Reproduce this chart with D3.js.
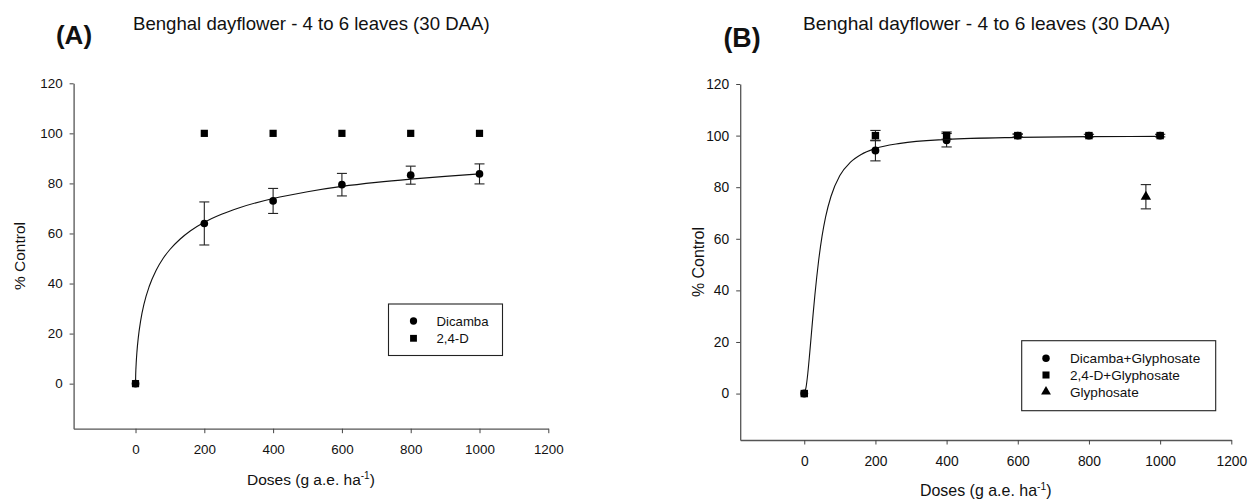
<!DOCTYPE html>
<html>
<head>
<meta charset="utf-8">
<script src="https://cdn.jsdelivr.net/npm/d3@7"></script>
<style>
  body { margin: 0; background: #fff; }
  svg { display: block; font-family: "Liberation Sans", Arial, sans-serif; }
</style>
</head>
<body>
<svg id="chart" width="1248" height="499"></svg>
<script>
// ---------- data ----------
const xTicks = [0, 200, 400, 600, 800, 1000, 1200];
const yTicks = [0, 20, 40, 60, 80, 100, 120];
const doses = [0, 200, 400, 600, 800, 1000];

// Panel A
const dicambaA = [0, 64, 73, 79.5, 83.3, 83.8];
const dicambaAErr = [0, 8.6, 5, 4.5, 3.6, 4];
const d24A = [0, 100, 100, 100, 100, 100];
// fitted curve
const fitADose = [0, 0.5, 1, 2, 4, 8, 15, 25, 40, 60, 80, 100, 130, 160, 200, 250, 300, 400, 500, 600, 700, 800, 900, 1000];
const fitAVal  = [0, 3.6, 5.5, 8.3, 12.5, 18.3, 25.2, 32, 38.9, 45.3, 50, 53.6, 57.8, 61.1, 64.5, 67.7, 70.2, 74, 76.7, 78.8, 80.4, 81.7, 82.8, 83.8];

// Panel B
const dicambaGlyB = [0, 94.2, 98.2, 100, 100, 100];
const dicambaGlyBErr = [0, 4, 2.6, 0.6, 0.5, 0.5];
const d24GlyB = [0, 100, 100, 100, 100, 100];
const d24GlyBErr = [0, 2, 1.4, 0.6, 0, 0];
const glyDose = [960];
const glyB = [76.3];
const glyBErr = [4.7];
const fitBDose = [0, 5, 10, 15, 20, 25, 30, 35, 40, 50, 60, 75, 100, 130, 160, 200, 270, 400, 600, 800, 1000];
const fitBVal  = [0, 2.4, 7.9, 15.2, 23.1, 31, 38.4, 45.1, 51.1, 61, 68.5, 76.4, 84.5, 89.7, 92.7, 95, 97, 98.5, 99.3, 99.6, 99.7];

const title = "Benghal dayflower - 4 to 6 leaves (30 DAA)";

// ---------- drawing ----------
const svg = d3.select("#chart");
const ink = "#111";

function drawPanel(cfg) {
  const g = svg.append("g");
  const k = cfg.k;
  const x = d3.scaleLinear().domain([-180, 1200]).range([cfg.x0, cfg.x1]);
  const y = d3.scaleLinear().domain([-18, 120]).range([cfg.yBot, cfg.yTop]);

  // axes
  const xa = g.append("g").attr("transform", `translate(0,${cfg.yBot})`)
    .call(d3.axisBottom(x).tickValues(xTicks).tickFormat(d3.format("d"))
      .tickSize(4.5).tickSizeOuter(0).tickPadding(9));
  const ya = g.append("g").attr("transform", `translate(${cfg.x0},0)`)
    .call(d3.axisLeft(y).tickValues(yTicks).tickFormat(d3.format("d"))
      .tickSize(4).tickSizeOuter(0).tickPadding(7));
  [xa, ya].forEach(a => {
    a.select(".domain").attr("stroke", "#555").attr("stroke-width", 1.3);
    a.selectAll(".tick line").attr("stroke", "#444").attr("stroke-width", 1);
    a.selectAll(".tick text").attr("fill", ink).style("font-size", (13.4 * k) + "px");
  });
  xa.selectAll(".tick text").attr("dy", "0.9em");

  // axis titles
  const xl = g.append("text")
    .attr("x", (cfg.x0 + cfg.x1) / 2).attr("y", cfg.xLabelY)
    .attr("text-anchor", "middle").attr("fill", ink)
    .style("font-size", (15.5 * k) + "px");
  xl.append("tspan").text("Doses (g a.e. ha");
  xl.append("tspan").text("-1").attr("dy", -6 * k).style("font-size", (10 * k) + "px");
  xl.append("tspan").text(")").attr("dy", 6 * k);

  g.append("text")
    .attr("transform", `translate(${cfg.yLabelX},${(cfg.yTop + cfg.yBot) / 2}) rotate(-90)`)
    .attr("text-anchor", "middle").attr("dy", "0.35em").attr("fill", ink)
    .style("font-size", (15.5 * k) + "px").text("% Control");

  // panel letter and title
  g.append("text").attr("x", cfg.letterX).attr("y", cfg.letterY)
    .attr("text-anchor", "middle").attr("fill", ink)
    .style("font-size", (26 * k) + "px").style("font-weight", "bold").text(cfg.letter);
  g.append("text").attr("x", cfg.titleX).attr("y", cfg.titleY).attr("fill", ink)
    .style("font-size", (18.6 * k) + "px").text(title);

  // fitted curve
  const line = d3.line().x(d => x(d[0])).y(d => y(d[1])).curve(d3.curveMonotoneX);
  g.append("path").datum(d3.zip(cfg.fitDose, cfg.fitVal))
    .attr("d", line).attr("fill", "none").attr("stroke", ink).attr("stroke-width", 1.1);

  const cap = 5 * k;
  // series
  cfg.series.forEach(s => {
    const pts = s.dose.map((d, i) => ({ d, v: s.val[i], e: s.err ? s.err[i] : 0 }));
    const eb = g.append("g").attr("stroke", "#222").attr("stroke-width", 1.1);
    pts.filter(p => p.e > 0).forEach(p => {
      const xx = x(p.d), y1 = y(p.v + p.e), y2 = y(p.v - p.e);
      eb.append("line").attr("x1", xx).attr("x2", xx).attr("y1", y1).attr("y2", y2);
      eb.append("line").attr("x1", xx - cap).attr("x2", xx + cap).attr("y1", y1).attr("y2", y1);
      eb.append("line").attr("x1", xx - cap).attr("x2", xx + cap).attr("y1", y2).attr("y2", y2);
    });
    const sym = d3.symbol().type(s.shape).size(s.size * k * k);
    g.append("g").selectAll("path").data(pts).join("path")
      .attr("transform", p => `translate(${x(p.d)},${y(p.v)})`)
      .attr("d", sym).attr("fill", "#000");
  });

  // legend
  const L = cfg.legend;
  g.append("rect").attr("x", L.x).attr("y", L.y).attr("width", L.w).attr("height", L.h)
    .attr("fill", "#fff").attr("stroke", "#222").attr("stroke-width", 1.1);
  cfg.series.forEach((s, i) => {
    const cy = L.y + L.first + i * L.step;
    g.append("path").attr("transform", `translate(${L.x + L.sym},${cy})`)
      .attr("d", d3.symbol().type(s.shape).size(s.size * k * k * 0.9)).attr("fill", "#000");
    g.append("text").attr("x", L.x + L.text).attr("y", cy).attr("dy", "0.36em")
      .attr("fill", ink).style("font-size", (13.2 * k) + "px").text(s.name);
  });
}

drawPanel({
  k: 1, x0: 73.6, x1: 548.3, yTop: 83.3, yBot: 428.7,
  xLabelY: 485, yLabelX: 20,
  letter: "(A)", letterX: 74, letterY: 44, titleX: 133, titleY: 29.5,
  fitDose: fitADose, fitVal: fitAVal,
  series: [
    { name: "Dicamba", dose: doses, val: dicambaA, err: dicambaAErr, shape: d3.symbolCircle, size: 46 },
    { name: "2,4-D", dose: doses, val: d24A, err: null, shape: d3.symbolSquare, size: 52 }
  ],
  legend: { x: 388.5, y: 304, w: 114, h: 51.5, first: 17, step: 17.3, sym: 25, text: 48 }
});

drawPanel({
  k: 1.03, x0: 740.2, x1: 1231.3, yTop: 84, yBot: 440,
  xLabelY: 496, yLabelX: 698,
  letter: "(B)", letterX: 742, letterY: 47, titleX: 803, titleY: 30,
  fitDose: fitBDose, fitVal: fitBVal,
  series: [
    { name: "Dicamba+Glyphosate", dose: doses, val: dicambaGlyB, err: dicambaGlyBErr, shape: d3.symbolCircle, size: 46 },
    { name: "2,4-D+Glyphosate", dose: doses, val: d24GlyB, err: d24GlyBErr, shape: d3.symbolSquare, size: 52 },
    { name: "Glyphosate", dose: glyDose, val: glyB, err: glyBErr, shape: d3.symbolTriangle, size: 44 }
  ],
  legend: { x: 1021.7, y: 340.7, w: 194, h: 70, first: 17.6, step: 16.7, sym: 24.3, text: 48.3 }
});
</script>
</body>
</html>
